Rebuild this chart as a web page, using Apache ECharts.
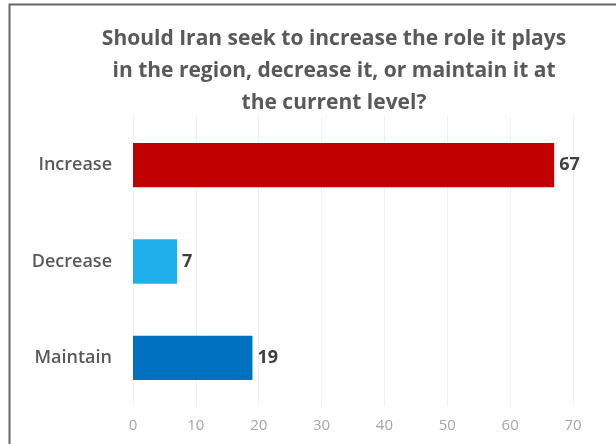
<!DOCTYPE html>
<html>
<head>
<meta charset="utf-8">
<script src="https://cdn.jsdelivr.net/npm/echarts@6/dist/echarts.min.js"></script>
<style>html,body{margin:0;padding:0;background:#fff}#c{width:616px;height:444px}</style>
</head>
<body>
<div id="c"></div>
<script>
var titleLines = ['Should Iran seek to increase the role it plays', 'in the region, decrease it, or maintain it at', 'the current level?'];
var categories = ['Increase', 'Decrease', 'Maintain'];
var values = [67, 7, 19];
var barColors = ['#C00000', '#1FB0EC', '#0070C0'];
var tickMin = 0, tickMax = 70, tickStep = 10;

var chart = echarts.init(document.getElementById('c'), null, {renderer: 'canvas'});
chart.setOption({
  animation: false,
  backgroundColor: '#ffffff',
  title: {
    text: titleLines.join('\n'),
    left: 329, top: 18, textAlign: 'center',
    textStyle: {fontFamily: 'Open Sans', fontWeight: 'bold', fontSize: 21, color: '#595959', lineHeight: 32}
  },
  graphic: [{
    type: 'rect', shape: {x: 9.5, y: 4.5, width: 700, height: 600}, silent: true,
    style: {fill: 'none', stroke: '#666666', lineWidth: 2}
  }],
  grid: {left: 133, right: 43, top: 117, bottom: 38, containLabel: false},
  xAxis: {
    type: 'value', min: tickMin, max: tickMax, interval: tickStep,
    axisLine: {show: false}, axisTick: {show: false},
    splitLine: {lineStyle: {color: '#efefef', width: 1}},
    axisLabel: {color: '#a6a6a6', fontFamily: 'Open Sans', fontSize: 15, margin: 12}
  },
  yAxis: {
    type: 'category', data: categories, inverse: true,
    axisLine: {show: false}, axisTick: {show: false},
    axisLabel: {color: '#595959', fontFamily: 'Open Sans', fontWeight: 600, fontSize: 18, margin: 21}
  },
  series: [{
    type: 'bar', barCategoryGap: '54%',
    data: values.map(function (v, i) { return {value: v, itemStyle: {color: barColors[i]}}; }),
    label: {show: true, position: 'right', distance: 5, color: '#404040', fontFamily: 'Open Sans', fontWeight: 'bold', fontSize: 18}
  }]
});
</script>
</body>
</html>
